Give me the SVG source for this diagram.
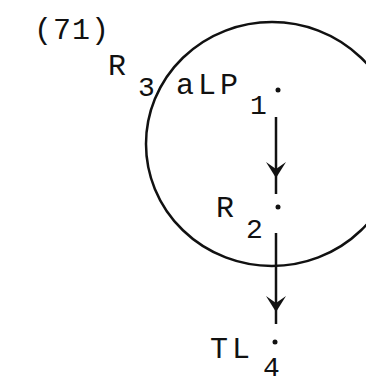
<svg xmlns="http://www.w3.org/2000/svg" width="366" height="383" viewBox="0 0 366 383">
<style>
.t{font-family:"Liberation Mono","DejaVu Sans Mono",monospace;fill:#111;font-size:30px}
.s{font-family:"Liberation Mono","DejaVu Sans Mono",monospace;fill:#111;font-size:28px}
.c{fill:none;stroke:#111;stroke-width:2.5}
.e{stroke:#111;stroke-width:2.5;fill:none}
.d{fill:#111}
</style>
<defs>
<marker id="ah" markerUnits="userSpaceOnUse" markerWidth="24" markerHeight="24" refX="20" refY="10" orient="auto" viewBox="0 0 24 20">
<path d="M4,0 L20,10 L4,20 L11,10 Z" fill="#111"/>
</marker>
</defs>
<rect width="366" height="383" fill="#fff"/>
<text class="t" x="34" y="39" letter-spacing="1">(71)</text>
<g id="circle"><ellipse class="c" cx="272" cy="144" rx="126" ry="122"/></g>
<g id="connectors">
<path class="e" d="M276,117 L276,178 L276,194" marker-mid="url(#ah)"/>
<path class="e" d="M276,233 L276,312 L276,324" marker-mid="url(#ah)"/>
</g>
<g id="R3">
<text class="t" x="108" y="75">R</text>
<text class="s" x="138" y="96">3</text>
</g>
<g id="aLP1">
<text class="t" x="176" y="94" letter-spacing="4">aLP</text>
<text class="s" x="250" y="114">1</text>
<circle class="d" cx="278" cy="90" r="2.5"/>
</g>
<g id="R2">
<text class="t" x="216" y="217">R</text>
<text class="s" x="246" y="238">2</text>
<circle class="d" cx="278" cy="207" r="2.5"/>
</g>
<g id="TL4">
<text class="t" x="210" y="358" letter-spacing="4">TL</text>
<text class="s" x="263" y="376" font-size="25">4</text>
<circle class="d" cx="275" cy="342" r="2.5"/>
</g>
</svg>
